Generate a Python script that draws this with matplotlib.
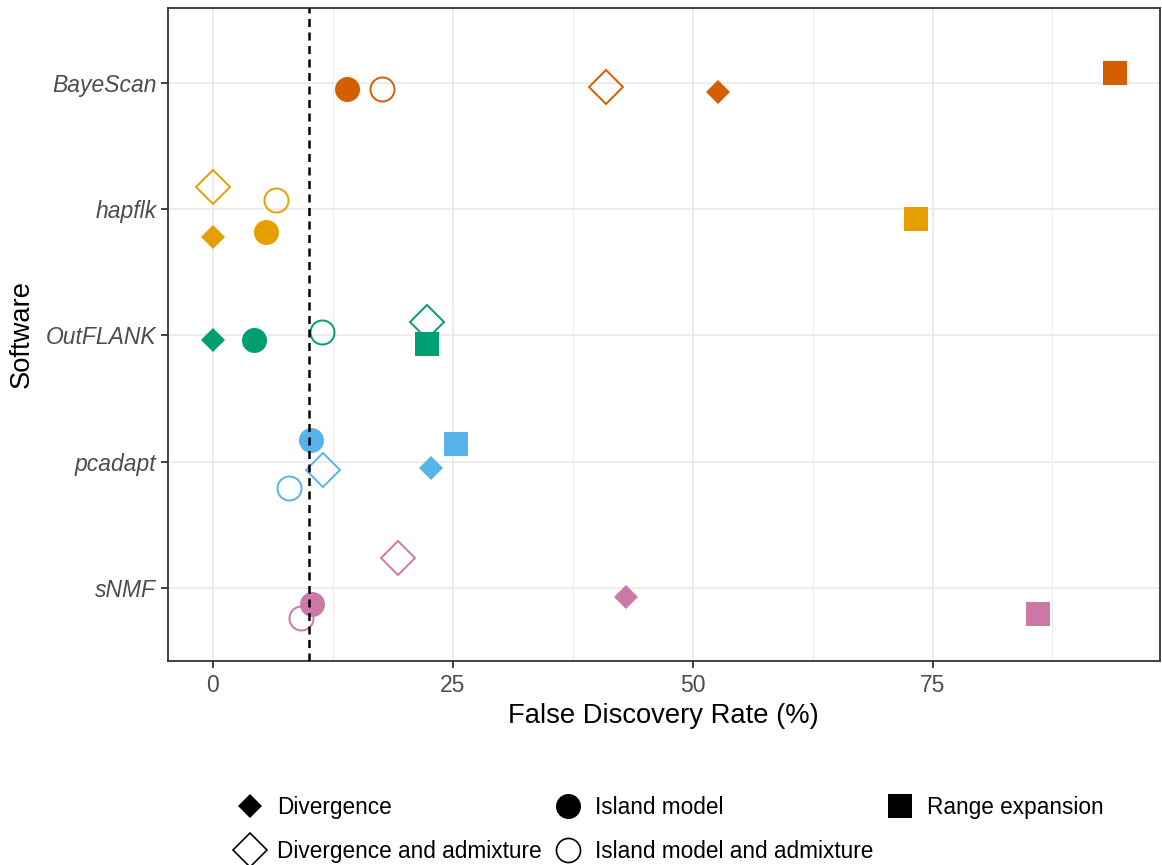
import matplotlib
matplotlib.use("Agg")
import matplotlib.pyplot as plt
from matplotlib.lines import Line2D

plt.rcParams['font.family'] = ['Liberation Sans', 'DejaVu Sans']

# ---- data ----
software = ["sNMF", "pcadapt", "OutFLANK", "hapflk", "BayeScan"]
colors = ["#CC79A7", "#56B4E9", "#009E73", "#E69F00", "#D55E00"]

methods = ["Divergence", "Divergence and admixture", "Island model",
           "Island model and admixture", "Range expansion"]

# FDR (%) per method, in the order of `software`
fdr_divergence = [43.1, 22.7, 0.0, 0.0, 52.7]
fdr_div_admix = [19.3, 11.5, 22.3, 0.0, 41.0]
fdr_island = [10.4, 10.2, 4.3, 5.6, 14.0]
fdr_island_admix = [9.2, 8.0, 11.4, 6.6, 17.6]
fdr_range = [86.0, 25.4, 22.3, 73.3, 94.0]

# vertical jitter (in category units)
jit_divergence = [-0.07, -0.05, -0.04, -0.22, -0.07]
jit_div_admix = [0.24, -0.07, 0.11, 0.18, -0.03]
jit_island = [-0.13, 0.17, -0.04, -0.18, -0.05]
jit_island_admix = [-0.24, -0.21, 0.03, 0.07, -0.05]
jit_range = [-0.21, 0.14, -0.07, -0.08, 0.08]

threshold = 10

# ---- styles ----
styles = {
    "Divergence": dict(marker="D", ms=12.0, filled=True),
    "Divergence and admixture": dict(marker="D", ms=17.3, filled=False),
    "Island model": dict(marker="o", ms=18.0, filled=True),
    "Island model and admixture": dict(marker="o", ms=17.3, filled=False),
    "Range expansion": dict(marker="s", ms=17.3, filled=True),
}
series = {
    "Divergence": (fdr_divergence, jit_divergence),
    "Divergence and admixture": (fdr_div_admix, jit_div_admix),
    "Island model": (fdr_island, jit_island),
    "Island model and admixture": (fdr_island_admix, jit_island_admix),
    "Range expansion": (fdr_range, jit_range),
}
draw_order = ["Divergence", "Divergence and admixture",
              "Island model and admixture", "Island model", "Range expansion"]

fig = plt.figure(figsize=(11.62, 8.65), dpi=100)
ax = fig.add_axes([167.5 / 1162, 1 - 661 / 865, (1160 - 167.5) / 1162, (661 - 8) / 865])

ypos = list(range(len(software)))
for m in draw_order:
    vals, jit = series[m]
    st = styles[m]
    for i, (v, j) in enumerate(zip(vals, jit)):
        c = colors[i]
        ax.plot(v, ypos[i] + j, linestyle="none", marker=st["marker"], ms=st["ms"],
                markerfacecolor=c if st["filled"] else "none",
                markeredgecolor=c, markeredgewidth=0 if st["filled"] else 1.4,
                zorder=3)

ax.axvline(threshold, color="black", linestyle=(0, (3.2, 2.2)), linewidth=1.8, zorder=4)

ax.set_xlim(-4.7, 98.7)
ax.set_ylim(-0.58, 4.595)
ax.set_xticks([0, 25, 50, 75])
ax.set_xticks([12.5, 37.5, 62.5, 87.5], minor=True)
ax.set_yticks(ypos)
ax.set_yticklabels(software, style="italic")
ax.tick_params(axis="both", which="major", length=5, width=1.3, color="#333333",
               labelcolor="#4D4D4D", labelsize=16.5)
ax.tick_params(axis="x", which="major", pad=4)
ax.tick_params(axis="y", which="major", pad=3)
ax.tick_params(axis="x", which="minor", length=0)
ax.grid(True, which="major", color="#EBEBEB", linewidth=1.3, zorder=0)
ax.grid(True, which="minor", axis="x", color="#EBEBEB", linewidth=0.7, zorder=0)
ax.set_axisbelow(True)
for s in ax.spines.values():
    s.set_color("#333333")
    s.set_linewidth(1.3)

ax.set_xlabel("False Discovery Rate (%)", fontsize=19.7, labelpad=5)
ax.set_ylabel("Software", fontsize=19.7, labelpad=8)

handles = []
for m in methods:
    st = styles[m]
    handles.append(Line2D([], [], linestyle="none", marker=st["marker"], ms=st["ms"],
                          markerfacecolor="black" if st["filled"] else "none",
                          markeredgecolor="black", markeredgewidth=0 if st["filled"] else 1.2,
                          label=m))
fig.legend(handles=handles, loc="center", bbox_to_anchor=(670 / 1162, 1 - 829.5 / 865),
           ncol=3, frameon=False, fontsize=16.3, handletextpad=0.58, columnspacing=0.57,
           labelspacing=0.92, handlelength=1.2)

fig.savefig("out.png", dpi=100)
